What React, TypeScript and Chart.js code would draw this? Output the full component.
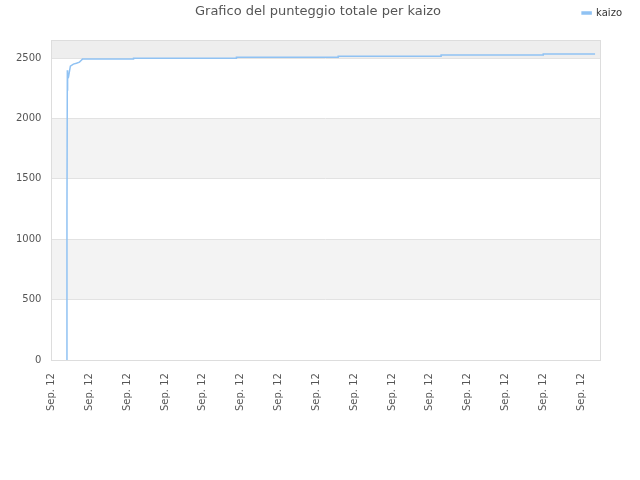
import { useEffect, useRef } from "react";
import { Chart, registerables } from "chart.js";

Chart.register(...registerables);

const chartTitle = "Grafico del punteggio totale per kaizo";
const seriesName = "kaizo";
const tickLabels = [
  "Sep. 12", "Sep. 12", "Sep. 12", "Sep. 12", "Sep. 12",
  "Sep. 12", "Sep. 12", "Sep. 12", "Sep. 12", "Sep. 12",
  "Sep. 12", "Sep. 12", "Sep. 12", "Sep. 12", "Sep. 12",
];
const yTicks = [0, 500, 1000, 1500, 2000, 2500];
const xValues = [
  0.4, 0.41, 0.41, 0.42, 0.42, 0.43, 0.43, 0.45, 0.5, 0.58, 0.66, 0.74, 0.79,
  0.82, 2.17, 2.17, 4.89, 4.89, 7.58, 7.58, 10.3, 10.3, 13.0, 13.0, 14.37,
];
const scoreValues = [
  0, 120, 1200, 2400, 2380, 2230, 2330, 2342, 2433, 2450, 2458, 2467, 2483,
  2492, 2492, 2499, 2499, 2507, 2507, 2516, 2516, 2525, 2525, 2535, 2535,
];

const lineColor = "#90c2f3";

const bandsPlugin = {
  id: "bands",
  afterInit(chart: any) {
    // leave extra room under the legend, as in the reference
    const legend = chart.legend;
    if (!legend) return;
    const fit = legend.fit;
    legend.fit = function () {
      fit.call(this);
      this.height += 12;
    };
  },
  beforeDraw(chart: any) {
    const { ctx, chartArea, scales } = chart;
    const y = scales.y;
    ctx.save();
    const fill = (from: number, to: number, color: string) => {
      const top = y.getPixelForValue(to);
      const bottom = y.getPixelForValue(from);
      ctx.fillStyle = color;
      ctx.fillRect(chartArea.left, top, chartArea.right - chartArea.left, bottom - top);
    };
    fill(2500, y.max, "#eeeeee");
    fill(1500, 2000, "#f3f3f3");
    fill(500, 1000, "#f3f3f3");
    ctx.restore();
  },
  afterDraw(chart: any) {
    const { ctx, chartArea } = chart;
    ctx.save();
    ctx.strokeStyle = "#dddddd";
    ctx.lineWidth = 1;
    ctx.strokeRect(
      Math.round(chartArea.left) + 0.5,
      Math.round(chartArea.top) + 0.5,
      Math.round(chartArea.right - chartArea.left),
      Math.round(chartArea.bottom - chartArea.top)
    );
    ctx.fillStyle = "#555555";
    ctx.font = "13px 'DejaVu Sans'";
    ctx.textAlign = "center";
    ctx.textBaseline = "middle";
    ctx.fillText(chartTitle, 318, 12);
    ctx.restore();
  },
};

export default function App() {
  const ref = useRef<HTMLCanvasElement | null>(null);
  useEffect(() => {
    document.body.style.margin = "0";
    if (!ref.current) return;
    Chart.defaults.font.family = "'DejaVu Sans'";
    const chart = new Chart(ref.current, {
      type: "line",
      data: {
        datasets: [
          {
            label: seriesName,
            data: xValues.map((x, i) => ({ x, y: scoreValues[i] })),
            borderColor: lineColor,
            backgroundColor: lineColor,
            borderWidth: 1.5,
            pointRadius: 0,
            tension: 0,
          },
        ],
      },
      options: {
        animation: false,
        responsive: false,
        layout: { padding: { left: 6, right: 10, top: 0, bottom: 56 } },
        plugins: {
          legend: {
            position: "top",
            align: "end",
            labels: {
              boxWidth: 9,
              boxHeight: 2,
              color: "#333333",
              font: { size: 10 },
              padding: 8,
            },
          },
          tooltip: { enabled: false },
        },
        scales: {
          x: {
            type: "linear",
            min: 0,
            max: 14.5,
            afterBuildTicks: (scale: any) => {
              scale.ticks = tickLabels.map((_, i) => ({ value: i }));
            },
            ticks: {
              callback: (_v: any, i: number) => tickLabels[i],
              minRotation: 90,
              maxRotation: 90,
              color: "#555555",
              font: { size: 10 },
              padding: 13,
            },
            grid: { display: false, drawTicks: false },
            border: { display: false },
          },
          y: {
            min: 0,
            max: 2650,
            afterBuildTicks: (scale: any) => {
              scale.ticks = yTicks.map((v) => ({ value: v }));
            },
            ticks: {
              callback: (v: any) => String(v),
              color: "#555555",
              font: { size: 10 },
              padding: 10,
            },
            grid: { color: "#e2e2e2", drawTicks: false },
            border: { display: false },
          },
          spacer: {
            type: "linear",
            position: "right",
            display: true,
            ticks: { display: false },
            grid: { display: false, drawTicks: false },
            border: { display: false },
            afterFit: (scale: any) => {
              scale.width = 30;
            },
          },
        },
      },
      plugins: [bandsPlugin],
    });
    return () => chart.destroy();
  }, []);

  return <canvas ref={ref} width={640} height={480}></canvas>;
}
